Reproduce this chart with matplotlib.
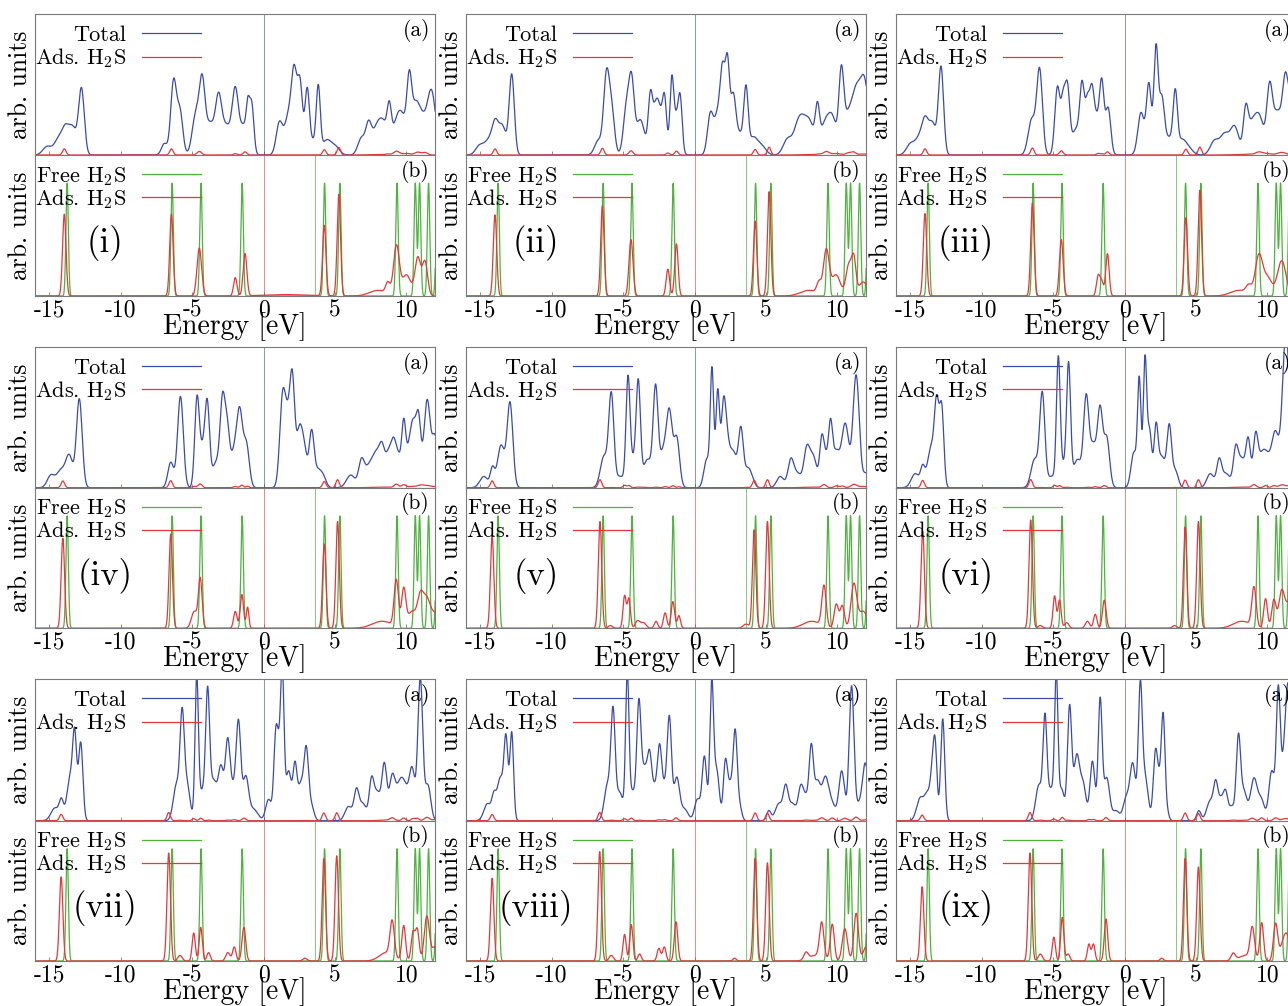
import numpy as np
import matplotlib
matplotlib.use("Agg")
import matplotlib.pyplot as plt

plt.rcParams['font.family'] = ['cmr10', 'DejaVu Serif']
plt.rcParams['mathtext.fontset'] = 'cm'
plt.rcParams['axes.formatter.use_mathtext'] = True

# levels as (energy [eV], weight, gaussian width [eV])
free_h2s = [(-13.75, 0.8, 0.085), (-6.40, 0.8, 0.085), (-4.38, 0.8, 0.085),
            (-1.50, 0.8, 0.085), (4.27, 0.8, 0.085), (5.34, 0.8, 0.085),
            (9.34, 0.8, 0.085), (10.62, 0.8, 0.085), (10.92, 0.8, 0.085),
            (11.55, 0.8, 0.085), (12.15, 0.8, 0.085)]
free_gap_mid = 3.57
fermi = 0.0

total_i = [(-15.15, 0.06, 0.3), (-14.35, 0.11, 0.3), (-13.85, 0.17, 0.25), (-13.35, 0.18, 0.25), (-12.75, 0.47, 0.2),
           (-6.95, 0.08, 0.2), (-6.3, 0.52, 0.2), (-5.85, 0.3, 0.2), (-4.75, 0.28, 0.25), (-4.3, 0.48, 0.2),
           (-3.75, 0.22, 0.3), (-3.15, 0.38, 0.22), (-2.6, 0.2, 0.3), (-1.98, 0.45, 0.22), (-1.4, 0.2, 0.25),
           (-1.1, 0.25, 0.12), (-0.83, 0.35, 0.15),
           (1.1, 0.22, 0.22), (1.8, 0.3, 0.3), (2.15, 0.45, 0.18), (2.55, 0.5, 0.18), (3.05, 0.42, 0.15),
           (3.4, 0.1, 0.3), (3.83, 0.45, 0.14), (4.4, 0.1, 0.3), (5.0, 0.06, 0.3),
           (6.85, 0.12, 0.25), (7.35, 0.2, 0.2), (7.9, 0.17, 0.3), (8.4, 0.2, 0.3), (8.8, 0.25, 0.15),
           (9.3, 0.2, 0.3), (9.75, 0.22, 0.3), (10.2, 0.45, 0.17), (10.6, 0.28, 0.25), (11.05, 0.24, 0.3),
           (11.75, 0.45, 0.3)]
total_ii = [(-15.05, 0.065, 0.28), (-14.4, 0.1, 0.3), (-13.95, 0.2, 0.22), (-13.45, 0.2, 0.25), (-12.8, 0.57, 0.18),
            (-6.75, 0.1, 0.25), (-6.17, 0.55, 0.2), (-5.8, 0.3, 0.2), (-4.75, 0.35, 0.22), (-4.4, 0.45, 0.18),
            (-3.8, 0.25, 0.3), (-3.1, 0.38, 0.15), (-2.75, 0.28, 0.2), (-2.45, 0.25, 0.2), (-2.1, 0.38, 0.15),
            (-1.6, 0.48, 0.13), (-1.3, 0.25, 0.2), (-1.0, 0.35, 0.14),
            (1.1, 0.28, 0.2), (1.65, 0.3, 0.25), (1.97, 0.48, 0.16), (2.3, 0.62, 0.15), (2.7, 0.38, 0.18),
            (3.15, 0.15, 0.3), (3.6, 0.42, 0.15), (4.1, 0.12, 0.3), (4.7, 0.06, 0.3),
            (6.5, 0.11, 0.3), (7.2, 0.17, 0.3), (7.6, 0.17, 0.3), (8.1, 0.2, 0.3), (8.6, 0.28, 0.15),
            (9.1, 0.2, 0.3), (9.65, 0.25, 0.3), (10.27, 0.52, 0.17), (10.7, 0.25, 0.3), (11.3, 0.4, 0.3),
            (11.9, 0.5, 0.3)]
total_iii = [(-15.0, 0.075, 0.28), (-14.35, 0.12, 0.3), (-13.95, 0.2, 0.22), (-13.45, 0.22, 0.25), (-12.85, 0.62, 0.18),
             (-6.5, 0.25, 0.25), (-5.95, 0.6, 0.2), (-4.7, 0.48, 0.18), (-4.3, 0.35, 0.15), (-4.0, 0.45, 0.16),
             (-3.4, 0.18, 0.3), (-2.97, 0.45, 0.16), (-2.6, 0.35, 0.15), (-2.3, 0.38, 0.15), (-2.0, 0.25, 0.2),
             (-1.6, 0.5, 0.16), (-1.15, 0.33, 0.18),
             (1.15, 0.3, 0.22), (1.7, 0.5, 0.17), (2.2, 0.75, 0.15), (2.6, 0.38, 0.18), (3.1, 0.12, 0.3),
             (3.55, 0.4, 0.15), (4.0, 0.1, 0.3), (4.5, 0.04, 0.3),
             (6.3, 0.1, 0.3), (7.0, 0.14, 0.3), (7.7, 0.2, 0.3), (8.48, 0.28, 0.17), (8.9, 0.2, 0.3),
             (9.45, 0.25, 0.3), (10.15, 0.45, 0.2), (10.7, 0.3, 0.3), (11.25, 0.45, 0.2), (11.8, 0.45, 0.3)]
total_iv = [(-14.9, 0.085, 0.25), (-14.2, 0.12, 0.3), (-13.6, 0.22, 0.25), (-12.9, 0.63, 0.2),
            (-6.5, 0.18, 0.2), (-5.82, 0.65, 0.2), (-4.66, 0.62, 0.16), (-4.27, 0.25, 0.2), (-3.94, 0.55, 0.16),
            (-3.3, 0.18, 0.3), (-2.87, 0.55, 0.17), (-2.55, 0.38, 0.17), (-2.05, 0.25, 0.25), (-1.66, 0.48, 0.2),
            (-1.2, 0.3, 0.2),
            (1.33, 0.62, 0.2), (1.7, 0.4, 0.2), (2.02, 0.7, 0.17), (2.5, 0.38, 0.2), (2.85, 0.25, 0.2),
            (3.36, 0.38, 0.17), (3.8, 0.12, 0.25), (4.2, 0.06, 0.2),
            (6.1, 0.09, 0.3), (6.85, 0.18, 0.2), (7.4, 0.15, 0.3), (7.9, 0.2, 0.25), (8.3, 0.25, 0.2),
            (8.75, 0.22, 0.2), (9.1, 0.27, 0.18), (9.45, 0.2, 0.2), (9.81, 0.38, 0.14), (10.2, 0.25, 0.25),
            (10.5, 0.32, 0.2), (10.85, 0.45, 0.17), (11.45, 0.62, 0.22), (12.0, 0.35, 0.2)]
total_v = [(-14.75, 0.08, 0.28), (-14.15, 0.13, 0.15), (-13.55, 0.3, 0.25), (-12.92, 0.6, 0.2),
           (-6.35, 0.22, 0.25), (-5.83, 0.65, 0.18), (-5.2, 0.08, 0.3), (-4.66, 0.75, 0.14), (-4.3, 0.18, 0.2),
           (-3.94, 0.72, 0.15), (-3.3, 0.2, 0.3), (-2.73, 0.68, 0.17), (-2.2, 0.25, 0.25), (-1.76, 0.5, 0.2),
           (-1.25, 0.35, 0.2),
           (0.85, 0.2, 0.2), (1.22, 0.82, 0.12), (1.62, 0.68, 0.13), (2.0, 0.4, 0.15), (2.2, 0.35, 0.2),
           (2.7, 0.25, 0.25), (3.24, 0.4, 0.17), (3.7, 0.12, 0.22), (4.0, 0.05, 0.2),
           (6.0, 0.08, 0.25), (6.73, 0.18, 0.2), (7.2, 0.1, 0.3), (7.85, 0.25, 0.2), (8.3, 0.22, 0.25),
           (8.9, 0.3, 0.15), (9.2, 0.2, 0.2), (9.52, 0.36, 0.14), (9.9, 0.25, 0.25), (10.55, 0.45, 0.25),
           (11.31, 0.8, 0.22), (12.0, 0.1, 0.2)]
total_vi = [(-14.65, 0.1, 0.28), (-14.13, 0.13, 0.15), (-13.55, 0.28, 0.25), (-13.15, 0.55, 0.16), (-12.8, 0.55, 0.15),
            (-6.3, 0.2, 0.25), (-5.76, 0.66, 0.18), (-5.1, 0.08, 0.3), (-4.64, 0.88, 0.13), (-4.3, 0.15, 0.2),
            (-3.92, 0.85, 0.14), (-3.3, 0.2, 0.3), (-2.69, 0.6, 0.18), (-2.2, 0.3, 0.25), (-1.71, 0.52, 0.18),
            (-1.25, 0.35, 0.2),
            (0.65, 0.25, 0.2), (1.03, 0.75, 0.12), (1.43, 0.9, 0.12), (1.75, 0.4, 0.15), (2.2, 0.4, 0.14),
            (2.6, 0.22, 0.25), (3.13, 0.42, 0.16), (3.55, 0.12, 0.2),
            (6.0, 0.1, 0.25), (6.62, 0.18, 0.17), (7.1, 0.1, 0.3), (7.78, 0.25, 0.17), (8.2, 0.2, 0.25),
            (8.66, 0.32, 0.16), (9.17, 0.35, 0.17), (9.6, 0.2, 0.25), (10.0, 0.17, 0.25), (10.55, 0.38, 0.25),
            (11.3, 1.1, 0.25)]
total_vii = [(-14.6, 0.09, 0.28), (-14.15, 0.13, 0.15), (-13.55, 0.3, 0.22), (-13.22, 0.55, 0.14), (-12.8, 0.55, 0.15),
             (-6.1, 0.25, 0.22), (-5.7, 0.7, 0.15), (-5.35, 0.25, 0.2), (-4.68, 1.0, 0.12), (-4.3, 0.2, 0.2),
             (-3.92, 0.85, 0.14), (-3.5, 0.28, 0.25), (-2.98, 0.35, 0.18), (-2.52, 0.52, 0.17), (-2.1, 0.22, 0.25),
             (-1.75, 0.62, 0.16), (-1.25, 0.3, 0.2), (-0.7, 0.08, 0.3),
             (0.35, 0.15, 0.2), (0.85, 0.55, 0.14), (1.1, 0.4, 0.15), (1.32, 0.92, 0.12), (1.75, 0.35, 0.2),
             (2.2, 0.36, 0.14), (2.6, 0.25, 0.2), (2.99, 0.48, 0.16), (3.35, 0.1, 0.18),
             (5.95, 0.1, 0.25), (6.5, 0.2, 0.17), (6.95, 0.12, 0.25), (7.55, 0.25, 0.16), (7.95, 0.2, 0.25),
             (8.46, 0.38, 0.17), (9.0, 0.3, 0.2), (9.5, 0.22, 0.25), (9.9, 0.2, 0.25), (10.4, 0.35, 0.2),
             (10.97, 1.0, 0.17), (11.5, 0.25, 0.2)]
total_viii = [(-14.5, 0.12, 0.25), (-14.05, 0.15, 0.15), (-13.6, 0.3, 0.22), (-13.2, 0.55, 0.14), (-12.8, 0.62, 0.13),
              (-6.1, 0.25, 0.22), (-5.71, 0.72, 0.15), (-5.25, 0.2, 0.25), (-4.71, 1.0, 0.12), (-4.35, 0.2, 0.2),
              (-3.9, 0.8, 0.15), (-3.5, 0.35, 0.2), (-3.15, 0.38, 0.15), (-2.8, 0.22, 0.2), (-2.45, 0.45, 0.15),
              (-2.1, 0.22, 0.2), (-1.76, 0.68, 0.15), (-1.25, 0.3, 0.2), (-0.7, 0.08, 0.25),
              (0.2, 0.15, 0.2), (0.69, 0.45, 0.16), (1.2, 0.95, 0.13), (1.55, 0.35, 0.18), (2.15, 0.38, 0.14),
              (2.5, 0.25, 0.2), (2.85, 0.58, 0.14), (3.15, 0.1, 0.15),
              (5.2, 0.07, 0.15), (5.9, 0.12, 0.25), (6.38, 0.22, 0.17), (6.85, 0.12, 0.25), (7.43, 0.22, 0.18),
              (7.8, 0.15, 0.2), (8.17, 0.48, 0.15), (8.6, 0.27, 0.22), (9.15, 0.28, 0.22), (9.6, 0.12, 0.25),
              (10.3, 0.35, 0.2), (10.99, 0.95, 0.17), (11.5, 0.1, 0.2), (11.95, 0.4, 0.2)]
total_ix = [(-14.3, 0.16, 0.25), (-13.8, 0.17, 0.2), (-13.45, 0.3, 0.15), (-13.25, 0.45, 0.13), (-12.73, 0.72, 0.14),
            (-6.0, 0.25, 0.22), (-5.57, 0.7, 0.14), (-5.15, 0.22, 0.2), (-4.78, 1.0, 0.12), (-4.4, 0.22, 0.18),
            (-3.85, 0.8, 0.15), (-3.35, 0.45, 0.2), (-2.9, 0.25, 0.2), (-2.25, 0.42, 0.17), (-1.71, 0.85, 0.14),
            (-1.25, 0.3, 0.2), (-0.6, 0.07, 0.25), (0.1, 0.15, 0.2),
            (0.57, 0.4, 0.2), (1.1, 0.92, 0.14), (1.45, 0.3, 0.2), (2.15, 0.42, 0.15), (2.45, 0.25, 0.2),
            (2.71, 0.65, 0.13), (3.0, 0.05, 0.12),
            (5.2, 0.07, 0.15), (6.0, 0.14, 0.25), (6.38, 0.22, 0.15), (6.75, 0.15, 0.2), (7.08, 0.17, 0.15),
            (7.5, 0.1, 0.2), (7.97, 0.58, 0.15), (8.35, 0.2, 0.2), (9.06, 0.3, 0.25), (9.6, 0.13, 0.2),
            (10.3, 0.35, 0.2), (10.76, 0.9, 0.14), (11.05, 0.2, 0.15), (11.4, 0.8, 0.2), (11.9, 0.6, 0.3)]

ads_i = [(-13.95, 0.58, 0.12), (-6.45, 0.58, 0.12), (-4.5, 0.34, 0.16), (-1.98, 0.13, 0.12), (-1.3, 0.3, 0.13),
         (1.5, 0.01, 1.5), (4.25, 0.5, 0.12), (5.27, 0.72, 0.12), (8.7, 0.08, 0.15), (8.0, 0.04, 0.6),
         (9.3, 0.35, 0.2), (10.0, 0.15, 0.3), (10.8, 0.27, 0.2), (11.3, 0.24, 0.18)]
ads_ii = [(-13.97, 0.575, 0.12), (-6.45, 0.64, 0.12), (-4.45, 0.4, 0.14), (-1.87, 0.19, 0.12), (-1.27, 0.37, 0.12),
          (4.24, 0.53, 0.12), (5.22, 0.74, 0.12), (8.7, 0.08, 0.15), (8.0, 0.04, 0.6), (9.22, 0.32, 0.2),
          (9.9, 0.15, 0.3), (10.8, 0.22, 0.2), (11.15, 0.24, 0.15), (11.8, 0.1, 0.3)]
ads_iii = [(-13.97, 0.585, 0.12), (-6.45, 0.66, 0.12), (-4.43, 0.4, 0.13), (-1.85, 0.14, 0.12), (-1.6, 0.1, 0.12),
           (-1.2, 0.3, 0.12), (4.29, 0.555, 0.12), (5.27, 0.75, 0.12), (8.7, 0.06, 0.2), (8.0, 0.04, 0.6),
           (9.4, 0.28, 0.25), (10.0, 0.13, 0.3), (11.0, 0.25, 0.3)]
ads_iv = [(-14.05, 0.64, 0.12), (-6.5, 0.67, 0.12), (-4.85, 0.12, 0.2), (-4.43, 0.35, 0.13), (-1.98, 0.12, 0.12),
          (-1.52, 0.24, 0.12), (-1.12, 0.15, 0.09), (4.25, 0.6, 0.12), (5.18, 0.76, 0.12), (8.3, 0.05, 0.7),
          (9.29, 0.33, 0.15), (9.81, 0.27, 0.15), (10.4, 0.12, 0.3), (10.97, 0.2, 0.2), (11.4, 0.2, 0.25),
          (12.0, 0.1, 0.3)]
ads_v = [(-14.17, 0.65, 0.12), (-6.62, 0.76, 0.12), (-5.9, 0.02, 0.15), (-4.9, 0.23, 0.11), (-4.6, 0.21, 0.11),
         (-4.0, 0.05, 0.15), (-3.6, 0.04, 0.2), (-2.7, 0.05, 0.12), (-2.06, 0.11, 0.12), (-1.52, 0.19, 0.12),
         (-1.1, 0.09, 0.11), (3.6, 0.03, 0.2), (4.17, 0.7, 0.12), (5.1, 0.76, 0.12), (8.2, 0.05, 0.6),
         (9.06, 0.29, 0.15), (9.92, 0.17, 0.15), (10.34, 0.16, 0.15), (11.15, 0.31, 0.2), (11.8, 0.12, 0.3)]
ads_vi = [(-14.13, 0.69, 0.12), (-6.57, 0.77, 0.12), (-5.9, 0.02, 0.15), (-4.9, 0.23, 0.11), (-4.55, 0.2, 0.11),
          (-4.05, 0.04, 0.15), (-2.6, 0.05, 0.15), (-2.05, 0.1, 0.12), (-1.42, 0.2, 0.13), (3.5, 0.02, 0.15),
          (4.24, 0.72, 0.12), (5.17, 0.76, 0.12), (8.2, 0.05, 0.6), (9.06, 0.28, 0.15), (9.87, 0.21, 0.13),
          (10.45, 0.2, 0.15), (10.99, 0.25, 0.2), (11.6, 0.2, 0.3)]
ads_vii = [(-14.17, 0.6, 0.12), (-6.64, 0.77, 0.12), (-5.85, 0.04, 0.15), (-4.89, 0.2, 0.11), (-4.4, 0.24, 0.11),
           (-3.85, 0.06, 0.12), (-2.5, 0.06, 0.15), (-2.05, 0.1, 0.12), (-1.38, 0.24, 0.13), (2.9, 0.02, 0.15),
           (4.22, 0.73, 0.12), (5.12, 0.75, 0.12), (8.6, 0.06, 0.5), (9.0, 0.25, 0.15), (9.81, 0.25, 0.13),
           (10.46, 0.2, 0.13), (10.76, 0.22, 0.13), (11.43, 0.32, 0.18), (12.0, 0.1, 0.2)]
ads_viii = [(-14.17, 0.59, 0.12), (-6.64, 0.78, 0.12), (-5.83, 0.04, 0.15), (-4.9, 0.19, 0.11), (-4.43, 0.26, 0.11),
            (-3.85, 0.05, 0.12), (-2.5, 0.09, 0.12), (-2.12, 0.1, 0.12), (-1.3, 0.28, 0.12), (2.8, 0.02, 0.12),
            (4.24, 0.73, 0.12), (5.1, 0.7, 0.12), (7.8, 0.05, 0.15), (8.5, 0.04, 0.5), (8.9, 0.25, 0.15),
            (9.64, 0.26, 0.14), (10.52, 0.23, 0.18), (11.31, 0.34, 0.16), (12.0, 0.1, 0.2)]
ads_ix = [(-14.17, 0.53, 0.12), (-6.62, 0.77, 0.12), (-5.9, 0.05, 0.15), (-4.95, 0.17, 0.11), (-4.36, 0.31, 0.11),
          (-3.95, 0.05, 0.12), (-2.5, 0.12, 0.11), (-2.18, 0.12, 0.11), (-1.3, 0.3, 0.12), (2.6, 0.02, 0.12),
          (4.24, 0.73, 0.12), (5.17, 0.67, 0.12), (7.6, 0.05, 0.15), (8.5, 0.04, 0.5), (8.94, 0.22, 0.15),
          (9.6, 0.27, 0.13), (10.57, 0.26, 0.15), (11.3, 0.2, 0.3)]

site_labels = ['(i)', '(ii)', '(iii)', '(iv)', '(v)', '(vi)', '(vii)', '(viii)', '(ix)']
totals = [total_i, total_ii, total_iii, total_iv, total_v, total_vi, total_vii, total_viii, total_ix]
adsorbed = [ads_i, ads_ii, ads_iii, ads_iv, ads_v, ads_vi, ads_vii, ads_viii, ads_ix]
ads_scale_top = 0.075   # projected DOS relative to total in the upper panels

xticks = [-15, -10, -5, 0, 5, 10]
xtick_labels = ['-15', '-10', '-5', '0', '5', '10']

BLUE = '#3a4ca8'
RED = '#e4383a'
GREEN = '#4db33d'
FRAME = '#7a7a7a'

energy = np.linspace(-16.5, 12.5, 4000)


def smear(levels):
    dos = np.zeros_like(energy)
    for e0, w, s in levels:
        dos += w * np.exp(-0.5 * ((energy - e0) / s) ** 2)
    return dos


def style(ax, ticklabels):
    ax.set_xlim(-16, 12)
    ax.set_ylim(0, 1.0)
    ax.set_yticks([])
    ax.set_xticks(xticks)
    if ticklabels:
        ax.set_xticklabels(xtick_labels)
    else:
        ax.set_xticklabels([])
    ax.tick_params(axis='x', direction='in', length=3, width=0.6, color=FRAME,
                   labelsize=17, pad=2.5)
    for sp in ax.spines.values():
        sp.set_color(FRAME)
        sp.set_linewidth(0.8)
    ax.text(-0.008, 0.5, 'arb. units', transform=ax.transAxes, rotation=90,
            ha='right', va='center', fontsize=18.5)


def key(ax, labels, colors):
    for lab, col, y in zip(labels, colors, [0.865, 0.70]):
        ax.text(0.229, y - 0.055, lab, transform=ax.transAxes, ha='right',
                va='baseline', fontsize=16)
        ax.plot([0.267, 0.415], [y, y], transform=ax.transAxes, color=col, lw=0.9)


fig = plt.figure(figsize=(12.88, 10.06), dpi=100)
W, H = 1288.0, 1006.0
col_left = [35, 466, 896]
row_px = [(14.3, 155.0, 296.0), (347.3, 487.7, 628.3), (679.3, 820.7, 961.0)]
width = 400

free_dos = smear(free_h2s)

for k in range(9):
    r, c = divmod(k, 3)
    top, mid, bot = row_px[r]
    x0 = col_left[c] / W
    ax_a = fig.add_axes([x0, 1 - mid / H, width / W, (mid - top) / H])
    ax_b = fig.add_axes([x0, 1 - bot / H, width / W, (bot - mid) / H])

    tot = smear(totals[k])
    ads = smear(adsorbed[k])

    # (a) total DOS with the adsorbed molecule projection
    ax_a.plot(energy, tot, color=BLUE, lw=0.9)
    ax_a.plot(energy, ads * ads_scale_top, color=RED, lw=0.9)
    ax_a.axvline(fermi, color=BLUE, lw=0.6, alpha=0.7)
    style(ax_a, False)
    key(ax_a, ['Total', r'Ads. H$_2$S'], [BLUE, RED])
    ax_a.text(0.9875, 0.885, '(a)', transform=ax_a.transAxes, ha='right',
              va='center', fontsize=15.5)

    # (b) free molecule against adsorbed molecule
    ax_b.plot(energy, free_dos, color=GREEN, lw=0.9)
    ax_b.plot(energy, ads, color=RED, lw=0.9)
    ax_b.axvline(fermi, color=RED, lw=0.6, alpha=0.7)
    ax_b.axvline(free_gap_mid, color=GREEN, lw=0.6, alpha=0.8)
    style(ax_b, True)
    key(ax_b, [r'Free H$_2$S', r'Ads. H$_2$S'], [GREEN, RED])
    ax_b.text(0.9875, 0.885, '(b)', transform=ax_b.transAxes, ha='right',
              va='center', fontsize=15.5)
    ax_b.text(0.175, 0.375, site_labels[k], transform=ax_b.transAxes,
              ha='center', va='center', fontsize=25)
    ax_b.text(0.5, -0.115, 'Energy [eV]', transform=ax_b.transAxes,
              ha='center', va='top', fontsize=20)

fig.savefig('out.png', dpi=100)
